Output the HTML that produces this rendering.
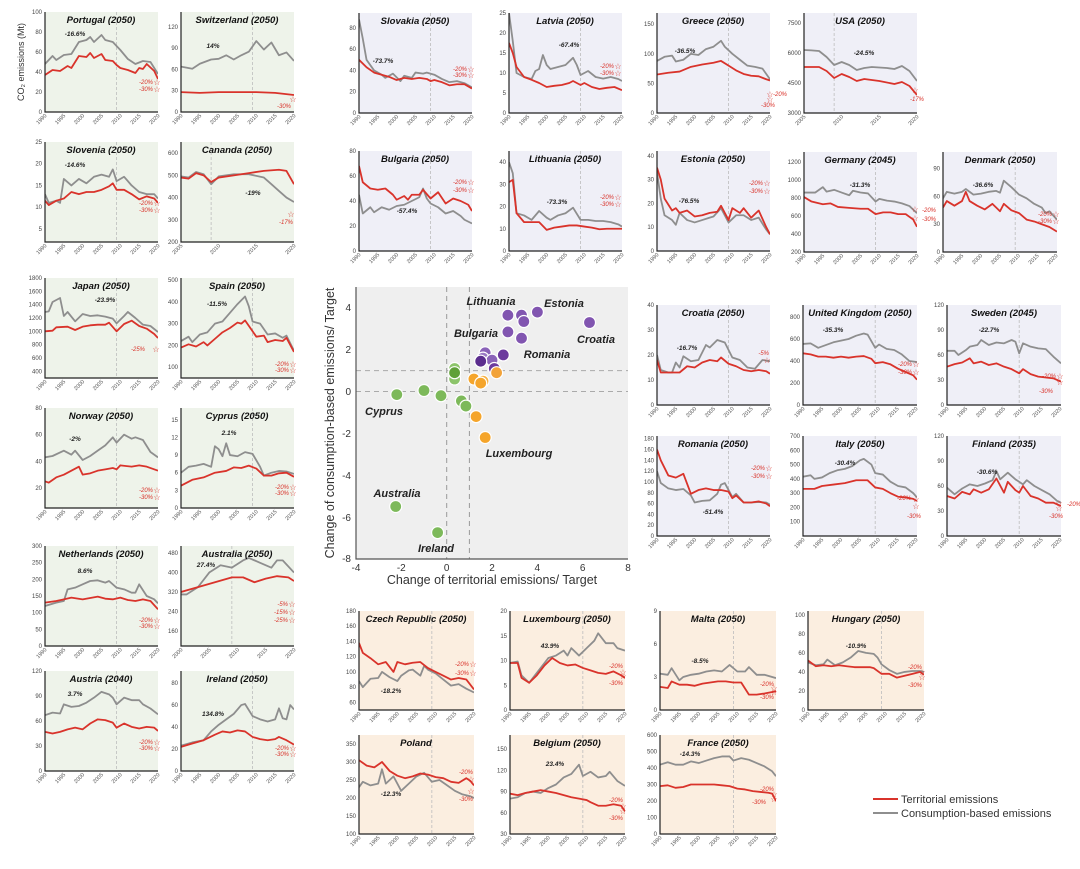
<!DOCTYPE html>
<html><head><meta charset="utf-8">
<style>
html,body{margin:0;padding:0;background:#fff;width:1080px;height:869px;overflow:hidden}
svg{font-family:"Liberation Sans",Arial,sans-serif}
.tt{font-weight:bold;font-style:italic;font-size:9.5px;text-anchor:middle;fill:#111}
.yt{font-size:6px;fill:#444;text-anchor:end}
.xt{font-size:5.5px;fill:#555;text-anchor:end}
.an{font-weight:bold;font-style:italic;font-size:6.5px;text-anchor:middle;fill:#222}
.ra{font-style:italic;font-size:6px;fill:#d9332b;text-anchor:end}
.st{font-size:8px;fill:#d9332b;text-anchor:middle}
.g{fill:none;stroke:#8e8e8e;stroke-width:1.8;vector-effect:non-scaling-stroke;stroke-linejoin:round}
.r{fill:none;stroke:#d9332b;stroke-width:1.8;vector-effect:non-scaling-stroke;stroke-linejoin:round}
.dl{stroke:#bdbdbd;stroke-width:.8;stroke-dasharray:3 2;vector-effect:non-scaling-stroke}
.ax{fill:none;stroke:#222;stroke-width:1.2}
.gb{fill:#eef3ea}.pb{fill:#efeff7}.ob{fill:#fbeee0}
.sl{font-weight:bold;font-style:italic;font-size:11px;text-anchor:middle;fill:#222}
.sk{font-size:10px;fill:#333}
</style></head><body>
<svg width="1080" height="869" viewBox="0 0 1080 869" xmlns="http://www.w3.org/2000/svg">

<text transform="translate(24,62) rotate(-90)" style="font-size:9px;fill:#333" text-anchor="middle">CO₂ emissions (Mt)</text>

<!-- Portugal -->
<g transform="translate(45,12)">
<rect class="gb" width="113" height="100"/>
<svg width="113" height="100" viewBox="1990 -100 30 100" preserveAspectRatio="none"><line class="dl" x1="2009" x2="2009" y1="-100" y2="0"/>
<polyline class="g" points="1990,-48 1992,-56 1993,-52 1995,-57 1997,-58 1999,-70 2001,-72 2002,-75 2003,-70 2005,-77 2006,-72 2008,-70 2010,-62 2012,-53 2014,-48 2016,-51 2018,-50 2020,-38"/>
<polyline class="r" points="1990,-37 1992,-42 1994,-41 1996,-46 1997,-44 1999,-56 2001,-55 2002,-59 2003,-54 2005,-58 2006,-52 2008,-51 2009,-47 2010,-44 2012,-42 2014,-39 2015,-44 2016,-43 2017,-48 2019,-41 2020,-33"/></svg>
<path class="ax" d="M0,0V100H113"/>
<text class="yt" x="-3" y="102">0</text><text class="yt" x="-3" y="82">20</text><text class="yt" x="-3" y="62">40</text><text class="yt" x="-3" y="42">60</text><text class="yt" x="-3" y="22">80</text><text class="yt" x="-3" y="2">100</text>
<text class="xt" transform="translate(2,104) rotate(-45)">1990</text><text class="xt" transform="translate(20.8,104) rotate(-45)">1995</text><text class="xt" transform="translate(39.7,104) rotate(-45)">2000</text><text class="xt" transform="translate(58.5,104) rotate(-45)">2005</text><text class="xt" transform="translate(77.3,104) rotate(-45)">2010</text><text class="xt" transform="translate(96.2,104) rotate(-45)">2015</text><text class="xt" transform="translate(115,104) rotate(-45)">2020</text>
<text class="tt" x="56" y="11">Portugal (2050)</text>
<text class="an" x="30" y="24">-16.6%</text><text class="ra" x="108" y="72">-20%</text><text class="ra" x="108" y="79">-30%</text><text class="st" x="112" y="73">☆</text><text class="st" x="112" y="80">☆</text>
</g>

<!-- Switzerland -->
<g transform="translate(181,12)">
<rect class="gb" width="113" height="100"/>
<svg width="113" height="100" viewBox="1990 -141 30 141" preserveAspectRatio="none"><line class="dl" x1="2009" x2="2009" y1="-141" y2="0"/>
<polyline class="g" points="1990,64 1993,61 1995,68 1998,74 2000,75 2002,80 2004,74 2006,80 2008,85 2010,100 2012,88 2014,98 2016,80 2018,84 2020,72" transform="scale(1,-1)"/>
<polyline class="r" points="1990,-28 1995,-27 2000,-28 2005,-28 2010,-28 2015,-27 2020,-24"/></svg>
<path class="ax" d="M0,0V100H113"/>
<text class="yt" x="-3" y="102">0</text><text class="yt" x="-3" y="80.7">30</text><text class="yt" x="-3" y="59.4">60</text><text class="yt" x="-3" y="38.2">90</text><text class="yt" x="-3" y="16.9">120</text>
<text class="xt" transform="translate(2,104) rotate(-45)">1990</text><text class="xt" transform="translate(20.8,104) rotate(-45)">1995</text><text class="xt" transform="translate(39.7,104) rotate(-45)">2000</text><text class="xt" transform="translate(58.5,104) rotate(-45)">2005</text><text class="xt" transform="translate(77.3,104) rotate(-45)">2010</text><text class="xt" transform="translate(96.2,104) rotate(-45)">2015</text><text class="xt" transform="translate(115,104) rotate(-45)">2020</text>
<text class="tt" x="56" y="11">Switzerland (2050)</text>
<text class="an" x="32" y="36">14%</text><text class="ra" x="110" y="96">-30%</text><text class="st" x="112" y="90">☆</text>
</g>

<!-- Slovenia -->
<g transform="translate(45,142)">
<rect class="gb" width="113" height="100"/>
<svg width="113" height="100" viewBox="1990 -25 30 23" preserveAspectRatio="none"><line class="dl" x1="2009" x2="2009" y1="-25" y2="-2"/>
<polyline class="g" points="1990,-13 1991,-11 1993,-11.5 1994,-11 1995,-16.5 1997,-15 1999,-16.5 2001,-15.5 2003,-17 2005,-17.5 2007,-17 2008,-18.7 2009,-16 2011,-17 2013,-15 2015,-13.5 2017,-13 2019,-13 2020,-12"/>
<polyline class="r" points="1990,-11.5 1991,-10.5 1993,-11.5 1995,-12 1997,-13.5 1999,-13 2001,-13.5 2003,-13.5 2005,-14 2007,-14.8 2008,-15.5 2009,-14 2011,-14 2013,-13 2015,-11.8 2017,-12.5 2019,-12 2020,-11"/></svg>
<path class="ax" d="M0,0V100H113"/>
<text class="yt" x="-3" y="89">5</text><text class="yt" x="-3" y="67.2">10</text><text class="yt" x="-3" y="45.5">15</text><text class="yt" x="-3" y="23.7">20</text><text class="yt" x="-3" y="2">25</text>
<text class="xt" transform="translate(2,104) rotate(-45)">1990</text><text class="xt" transform="translate(20.8,104) rotate(-45)">1995</text><text class="xt" transform="translate(39.7,104) rotate(-45)">2000</text><text class="xt" transform="translate(58.5,104) rotate(-45)">2005</text><text class="xt" transform="translate(77.3,104) rotate(-45)">2010</text><text class="xt" transform="translate(96.2,104) rotate(-45)">2015</text><text class="xt" transform="translate(115,104) rotate(-45)">2020</text>
<text class="tt" x="56" y="11">Slovenia (2050)</text>
<text class="an" x="30" y="25">-14.6%</text><text class="ra" x="108" y="63">-20%</text><text class="ra" x="108" y="70">-30%</text><text class="st" x="112" y="64">☆</text><text class="st" x="112" y="71">☆</text>
</g>

<!-- Canada -->
<g transform="translate(181,142)">
<rect class="gb" width="113" height="100"/>
<svg width="113" height="100" viewBox="2005 -650 15 450" preserveAspectRatio="none"><line class="dl" x1="2009" x2="2009" y1="-650" y2="-200"/>
<polyline class="g" points="2005,-495 2006,-490 2007,-515 2008,-505 2009,-460 2010,-495 2012,-505 2014,-505 2016,-490 2017,-460 2018,-430 2019,-400 2020,-380"/>
<polyline class="r" points="2005,-490 2006,-485 2007,-510 2008,-500 2009,-470 2010,-490 2012,-500 2014,-510 2016,-520 2018,-525 2019,-520 2020,-460"/></svg>
<path class="ax" d="M0,0V100H113"/>
<text class="yt" x="-3" y="102">200</text><text class="yt" x="-3" y="79.8">300</text><text class="yt" x="-3" y="57.6">400</text><text class="yt" x="-3" y="35.3">500</text><text class="yt" x="-3" y="13.1">600</text>
<text class="xt" transform="translate(2,104) rotate(-45)">2005</text><text class="xt" transform="translate(39.7,104) rotate(-45)">2010</text><text class="xt" transform="translate(77.3,104) rotate(-45)">2015</text><text class="xt" transform="translate(115,104) rotate(-45)">2020</text>
<text class="tt" x="56" y="11">Cananda (2050)</text>
<text class="an" x="72" y="53">-19%</text><text class="st" x="110" y="75">☆</text><text class="ra" x="112" y="82">-17%</text>
</g>

<!-- Japan -->
<g transform="translate(45,278)">
<rect class="gb" width="113" height="100"/>
<svg width="113" height="100" viewBox="1990 -1800 30 1500" preserveAspectRatio="none"><line class="dl" x1="2009" x2="2009" y1="-1800" y2="-300"/>
<polyline class="g" points="1990,-1290 1991,-1300 1992,-1440 1994,-1500 1995,-1230 1996,-1290 1998,-1150 2000,-1260 2002,-1230 2004,-1240 2006,-1220 2008,-1190 2009,-1120 2011,-1230 2012,-1290 2014,-1200 2016,-1100 2018,-1080 2020,-990"/>
<polyline class="r" points="1990,-1000 1992,-1010 1993,-1060 1996,-1070 1998,-1020 2000,-1070 2002,-1090 2004,-1100 2006,-1100 2007,-1130 2009,-1000 2011,-1110 2013,-1160 2015,-1080 2017,-1040 2019,-960 2020,-900"/></svg>
<path class="ax" d="M0,0V100H113"/>
<text class="yt" x="-3" y="95.3">400</text><text class="yt" x="-3" y="82">600</text><text class="yt" x="-3" y="68.7">800</text><text class="yt" x="-3" y="55.3">1000</text><text class="yt" x="-3" y="42">1200</text><text class="yt" x="-3" y="28.7">1400</text><text class="yt" x="-3" y="15.3">1600</text><text class="yt" x="-3" y="2">1800</text>
<text class="xt" transform="translate(2,104) rotate(-45)">1990</text><text class="xt" transform="translate(20.8,104) rotate(-45)">1995</text><text class="xt" transform="translate(39.7,104) rotate(-45)">2000</text><text class="xt" transform="translate(58.5,104) rotate(-45)">2005</text><text class="xt" transform="translate(77.3,104) rotate(-45)">2010</text><text class="xt" transform="translate(96.2,104) rotate(-45)">2015</text><text class="xt" transform="translate(115,104) rotate(-45)">2020</text>
<text class="tt" x="56" y="11">Japan (2050)</text>
<text class="an" x="60" y="24">-23.9%</text><text class="ra" x="100" y="73">-25%</text><text class="st" x="111" y="74">☆</text>
</g>

<!-- Spain -->
<g transform="translate(181,278)">
<rect class="gb" width="113" height="100"/>
<svg width="113" height="100" viewBox="1990 -510 30 460" preserveAspectRatio="none"><line class="dl" x1="2009" x2="2009" y1="-510" y2="-50"/>
<polyline class="g" points="1990,-220 1992,-240 1993,-215 1995,-250 1997,-260 1999,-300 2001,-310 2003,-350 2005,-390 2007,-425 2008,-380 2009,-310 2011,-300 2013,-250 2015,-255 2017,-235 2018,-245 2020,-175"/>
<polyline class="r" points="1990,-190 1992,-205 1994,-195 1996,-215 1997,-200 1999,-230 2001,-260 2003,-280 2005,-305 2006,-300 2007,-315 2009,-265 2010,-240 2012,-245 2013,-215 2015,-225 2017,-220 2018,-235 2020,-170"/></svg>
<path class="ax" d="M0,0V100H113"/>
<text class="yt" x="-3" y="91.1">100</text><text class="yt" x="-3" y="69.4">200</text><text class="yt" x="-3" y="47.7">300</text><text class="yt" x="-3" y="25.9">400</text><text class="yt" x="-3" y="4.2">500</text>
<text class="xt" transform="translate(2,104) rotate(-45)">1990</text><text class="xt" transform="translate(20.8,104) rotate(-45)">1995</text><text class="xt" transform="translate(39.7,104) rotate(-45)">2000</text><text class="xt" transform="translate(58.5,104) rotate(-45)">2005</text><text class="xt" transform="translate(77.3,104) rotate(-45)">2010</text><text class="xt" transform="translate(96.2,104) rotate(-45)">2015</text><text class="xt" transform="translate(115,104) rotate(-45)">2020</text>
<text class="tt" x="56" y="11">Spain (2050)</text>
<text class="an" x="36" y="28">-11.5%</text><text class="ra" x="108" y="88">-20%</text><text class="ra" x="108" y="94">-30%</text><text class="st" x="112" y="89">☆</text><text class="st" x="112" y="95">☆</text>
</g>

<!-- Norway -->
<g transform="translate(45,408)">
<rect class="gb" width="113" height="100"/>
<svg width="113" height="100" viewBox="1990 -80 30 75" preserveAspectRatio="none"><line class="dl" x1="2009" x2="2009" y1="-80" y2="-5"/>
<polyline class="g" points="1990,-43 1992,-44 1995,-48 1997,-45 1998,-48 2000,-41 2002,-44 2004,-48 2006,-52 2008,-58 2009,-54 2011,-60 2013,-57 2014,-58 2016,-56 2018,-47 2020,-43"/>
<polyline class="r" points="1990,-25 1991,-24 1993,-28 1995,-30 1997,-33 1999,-36 2000,-30 2002,-31 2004,-33 2006,-34 2008,-35 2009,-34 2010,-37 2013,-36 2015,-37 2017,-36 2020,-33"/></svg>
<path class="ax" d="M0,0V100H113"/>
<text class="yt" x="-3" y="82">20</text><text class="yt" x="-3" y="55.3">40</text><text class="yt" x="-3" y="28.7">60</text><text class="yt" x="-3" y="2">80</text>
<text class="xt" transform="translate(2,104) rotate(-45)">1990</text><text class="xt" transform="translate(20.8,104) rotate(-45)">1995</text><text class="xt" transform="translate(39.7,104) rotate(-45)">2000</text><text class="xt" transform="translate(58.5,104) rotate(-45)">2005</text><text class="xt" transform="translate(77.3,104) rotate(-45)">2010</text><text class="xt" transform="translate(96.2,104) rotate(-45)">2015</text><text class="xt" transform="translate(115,104) rotate(-45)">2020</text>
<text class="tt" x="56" y="11">Norway (2050)</text>
<text class="an" x="30" y="33">-2%</text><text class="ra" x="108" y="84">-20%</text><text class="ra" x="108" y="91">-30%</text><text class="st" x="112" y="85">☆</text><text class="st" x="112" y="92">☆</text>
</g>

<!-- Cyprus -->
<g transform="translate(181,408)">
<rect class="gb" width="113" height="100"/>
<svg width="113" height="100" viewBox="1990 -17 30 17" preserveAspectRatio="none"><line class="dl" x1="2009" x2="2009" y1="-17" y2="0"/>
<polyline class="g" points="1990,-6 1992,-7 1994,-7.2 1996,-7.5 1998,-7 1999,-10.5 2000,-10 2001,-8.8 2002,-11 2003,-9 2005,-8.8 2007,-9.5 2009,-9.2 2011,-7 2012,-5.5 2014,-6 2016,-6.3 2018,-6.2 2020,-5.8"/>
<polyline class="r" points="1990,-3.8 1993,-4.8 1996,-5.2 1999,-6 2002,-6.3 2004,-6.9 2006,-6.8 2008,-7.2 2010,-6.7 2012,-5.5 2014,-5.5 2016,-5.9 2018,-6 2020,-5.3"/></svg>
<path class="ax" d="M0,0V100H113"/>
<text class="yt" x="-3" y="102">0</text><text class="yt" x="-3" y="84.4">3</text><text class="yt" x="-3" y="66.7">6</text><text class="yt" x="-3" y="49.1">9</text><text class="yt" x="-3" y="31.4">12</text><text class="yt" x="-3" y="13.8">15</text>
<text class="xt" transform="translate(2,104) rotate(-45)">1990</text><text class="xt" transform="translate(20.8,104) rotate(-45)">1995</text><text class="xt" transform="translate(39.7,104) rotate(-45)">2000</text><text class="xt" transform="translate(58.5,104) rotate(-45)">2005</text><text class="xt" transform="translate(77.3,104) rotate(-45)">2010</text><text class="xt" transform="translate(96.2,104) rotate(-45)">2015</text><text class="xt" transform="translate(115,104) rotate(-45)">2020</text>
<text class="tt" x="56" y="11">Cyprus (2050)</text>
<text class="an" x="48" y="27">2.1%</text><text class="ra" x="108" y="81">-20%</text><text class="ra" x="108" y="87">-30%</text><text class="st" x="112" y="82">☆</text><text class="st" x="112" y="88">☆</text>
</g>

<!-- Netherlands -->
<g transform="translate(45,546)">
<rect class="gb" width="113" height="100"/>
<svg width="113" height="100" viewBox="1990 -300 30 300" preserveAspectRatio="none"><line class="dl" x1="2009" x2="2009" y1="-300" y2="0"/>
<polyline class="g" points="1990,-120 1993,-130 1995,-135 1996,-170 1998,-175 2000,-185 2002,-195 2004,-197 2006,-190 2007,-195 2009,-175 2011,-170 2013,-160 2014,-160 2015,-185 2017,-150 2019,-140 2020,-128"/>
<polyline class="r" points="1990,-130 1993,-135 1995,-140 1997,-145 2000,-140 2004,-148 2006,-142 2008,-140 2010,-145 2012,-138 2014,-135 2016,-140 2018,-135 2020,-110"/></svg>
<path class="ax" d="M0,0V100H113"/>
<text class="yt" x="-3" y="102">0</text><text class="yt" x="-3" y="85.3">50</text><text class="yt" x="-3" y="68.7">100</text><text class="yt" x="-3" y="52">150</text><text class="yt" x="-3" y="35.3">200</text><text class="yt" x="-3" y="18.7">250</text><text class="yt" x="-3" y="2">300</text>
<text class="xt" transform="translate(2,104) rotate(-45)">1990</text><text class="xt" transform="translate(20.8,104) rotate(-45)">1995</text><text class="xt" transform="translate(39.7,104) rotate(-45)">2000</text><text class="xt" transform="translate(58.5,104) rotate(-45)">2005</text><text class="xt" transform="translate(77.3,104) rotate(-45)">2010</text><text class="xt" transform="translate(96.2,104) rotate(-45)">2015</text><text class="xt" transform="translate(115,104) rotate(-45)">2020</text>
<text class="tt" x="56" y="11">Netherlands (2050)</text>
<text class="an" x="40" y="27">8.6%</text><text class="ra" x="108" y="76">-20%</text><text class="ra" x="108" y="82">-30%</text><text class="st" x="112" y="77">☆</text><text class="st" x="112" y="83">☆</text>
</g>

<!-- Australia -->
<g transform="translate(181,546)">
<rect class="gb" width="113" height="100"/>
<svg width="113" height="100" viewBox="2000 -509 20 411" preserveAspectRatio="none"><line class="dl" x1="2009" x2="2009" y1="-509" y2="-98"/>
<polyline class="g" points="2000,-310 2001,-310 2003,-340 2005,-400 2007,-430 2009,-420 2011,-450 2012,-460 2014,-440 2016,-420 2017,-450 2018,-450 2020,-400"/>
<polyline class="r" points="2000,-320 2003,-340 2006,-360 2009,-380 2011,-380 2013,-360 2015,-375 2017,-385 2019,-380 2020,-365"/></svg>
<path class="ax" d="M0,0V100H113"/>
<text class="yt" x="-3" y="86.9">160</text><text class="yt" x="-3" y="67.5">240</text><text class="yt" x="-3" y="48">320</text><text class="yt" x="-3" y="28.5">400</text><text class="yt" x="-3" y="9.1">480</text>
<text class="xt" transform="translate(2,104) rotate(-45)">2000</text><text class="xt" transform="translate(30.3,104) rotate(-45)">2005</text><text class="xt" transform="translate(58.5,104) rotate(-45)">2010</text><text class="xt" transform="translate(86.8,104) rotate(-45)">2015</text><text class="xt" transform="translate(115,104) rotate(-45)">2020</text>
<text class="tt" x="56" y="11">Australia (2050)</text>
<text class="an" x="25" y="21">27.4%</text><text class="ra" x="107" y="60">-5%</text><text class="ra" x="107" y="68">-15%</text><text class="ra" x="107" y="76">-25%</text><text class="st" x="111" y="61">☆</text><text class="st" x="111" y="69">☆</text><text class="st" x="111" y="77">☆</text>
</g>

<!-- Austria -->
<g transform="translate(45,671)">
<rect class="gb" width="113" height="100"/>
<svg width="113" height="100" viewBox="1990 -120 30 120" preserveAspectRatio="none"><line class="dl" x1="2009" x2="2009" y1="-120" y2="0"/>
<polyline class="g" points="1990,-67 1992,-70 1994,-69 1995,-80 1997,-77 1999,-78 2001,-82 2003,-88 2005,-95 2007,-92 2008,-88 2009,-80 2011,-88 2013,-85 2015,-85 2016,-80 2018,-75 2020,-68"/>
<polyline class="r" points="1990,-47 1992,-45 1994,-47 1996,-50 1998,-52 2000,-50 2002,-57 2004,-62 2006,-61 2008,-58 2009,-52 2011,-57 2013,-53 2015,-51 2017,-53 2019,-52 2020,-48"/></svg>
<path class="ax" d="M0,0V100H113"/>
<text class="yt" x="-3" y="102">0</text><text class="yt" x="-3" y="77">30</text><text class="yt" x="-3" y="52">60</text><text class="yt" x="-3" y="27">90</text><text class="yt" x="-3" y="2">120</text>
<text class="xt" transform="translate(2,104) rotate(-45)">1990</text><text class="xt" transform="translate(20.8,104) rotate(-45)">1995</text><text class="xt" transform="translate(39.7,104) rotate(-45)">2000</text><text class="xt" transform="translate(58.5,104) rotate(-45)">2005</text><text class="xt" transform="translate(77.3,104) rotate(-45)">2010</text><text class="xt" transform="translate(96.2,104) rotate(-45)">2015</text><text class="xt" transform="translate(115,104) rotate(-45)">2020</text>
<text class="tt" x="56" y="11">Austria (2040)</text>
<text class="an" x="30" y="25">3.7%</text><text class="ra" x="108" y="73">-20%</text><text class="ra" x="108" y="79">-30%</text><text class="st" x="112" y="74">☆</text><text class="st" x="112" y="80">☆</text>
</g>

<!-- Ireland -->
<g transform="translate(181,671)">
<rect class="gb" width="113" height="100"/>
<svg width="113" height="100" viewBox="1990 -91 30 91" preserveAspectRatio="none"><line class="dl" x1="2009" x2="2009" y1="-91" y2="0"/>
<polyline class="g" points="1990,-23 1993,-26 1996,-28 1998,-36 2000,-42 2002,-47 2004,-52 2006,-60 2007,-61 2009,-50 2011,-47 2013,-45 2015,-47 2016,-57 2017,-48 2018,-47 2019,-60 2020,-56"/>
<polyline class="r" points="1990,-22 1993,-25 1996,-28 1999,-33 2001,-36 2003,-35 2005,-37 2007,-36 2009,-31 2011,-29 2013,-28 2015,-29 2016,-31 2018,-28 2020,-24"/></svg>
<path class="ax" d="M0,0V100H113"/>
<text class="yt" x="-3" y="102">0</text><text class="yt" x="-3" y="80">20</text><text class="yt" x="-3" y="58">40</text><text class="yt" x="-3" y="36">60</text><text class="yt" x="-3" y="14.1">80</text>
<text class="xt" transform="translate(2,104) rotate(-45)">1990</text><text class="xt" transform="translate(20.8,104) rotate(-45)">1995</text><text class="xt" transform="translate(39.7,104) rotate(-45)">2000</text><text class="xt" transform="translate(58.5,104) rotate(-45)">2005</text><text class="xt" transform="translate(77.3,104) rotate(-45)">2010</text><text class="xt" transform="translate(96.2,104) rotate(-45)">2015</text><text class="xt" transform="translate(115,104) rotate(-45)">2020</text>
<text class="tt" x="56" y="11">Ireland (2050)</text>
<text class="an" x="32" y="45">134.8%</text><text class="ra" x="108" y="79">-20%</text><text class="ra" x="108" y="85">-30%</text><text class="st" x="112" y="80">☆</text><text class="st" x="112" y="86">☆</text>
</g>

<!-- Slovakia -->
<g transform="translate(359,13)">
<rect class="pb" width="113" height="100"/>
<svg width="113" height="100" viewBox="1990 -94 30 94" preserveAspectRatio="none"><line class="dl" x1="2009" x2="2009" y1="-94" y2="0"/>
<polyline class="g" points="1990,-88 1991,-70 1992,-50 1994,-40 1996,-36 1997,-33 1999,-37 2001,-30 2002,-35 2004,-33 2005,-38 2007,-37 2008,-38 2010,-36 2012,-32 2014,-29 2016,-30 2018,-28 2020,-24"/>
<polyline class="r" points="1990,-50 1992,-43 1994,-38 1996,-36 1998,-34 2000,-31 2002,-33 2004,-32 2006,-33 2008,-32 2009,-30 2010,-31 2012,-29 2014,-26 2016,-27 2018,-27 2020,-23"/></svg>
<path class="ax" d="M0,0V100H113"/>
<text class="yt" x="-3" y="102">0</text><text class="yt" x="-3" y="80.7">20</text><text class="yt" x="-3" y="59.4">40</text><text class="yt" x="-3" y="38.2">60</text><text class="yt" x="-3" y="16.9">80</text>
<text class="xt" transform="translate(2,104) rotate(-45)">1990</text><text class="xt" transform="translate(20.8,104) rotate(-45)">1995</text><text class="xt" transform="translate(39.7,104) rotate(-45)">2000</text><text class="xt" transform="translate(58.5,104) rotate(-45)">2005</text><text class="xt" transform="translate(77.3,104) rotate(-45)">2010</text><text class="xt" transform="translate(96.2,104) rotate(-45)">2015</text><text class="xt" transform="translate(115,104) rotate(-45)">2020</text>
<text class="tt" x="56" y="11">Slovakia (2050)</text>
<text class="an" x="24" y="50">-73.7%</text><text class="ra" x="108" y="58">-20%</text><text class="ra" x="108" y="64">-30%</text><text class="st" x="112" y="59">☆</text><text class="st" x="112" y="65">☆</text>
</g>

<!-- Latvia -->
<g transform="translate(509,13)">
<rect class="pb" width="113" height="100"/>
<svg width="113" height="100" viewBox="1990 -25 30 25" preserveAspectRatio="none"><line class="dl" x1="2009" x2="2009" y1="-25" y2="0"/>
<polyline class="g" points="1990,-25 1991,-18 1992,-10 1994,-9 1996,-8.5 1997,-10.5 1998,-11 1999,-14.5 2000,-12 2001,-11 2003,-11.5 2005,-12 2007,-13.8 2008,-12 2009,-9.5 2011,-10.5 2013,-9 2015,-8.6 2017,-9 2019,-8.5 2020,-8"/>
<polyline class="r" points="1990,-17.5 1991,-15 1992,-11.5 1994,-9 1996,-8.3 1998,-7.5 2000,-6.5 2002,-6.8 2004,-7 2006,-7.5 2007,-8 2009,-7 2010,-7.5 2012,-6.5 2014,-6 2016,-6.3 2018,-6.5 2020,-5.7"/></svg>
<path class="ax" d="M0,0V100H113"/>
<text class="yt" x="-3" y="102">0</text><text class="yt" x="-3" y="82">5</text><text class="yt" x="-3" y="62">10</text><text class="yt" x="-3" y="42">15</text><text class="yt" x="-3" y="22">20</text><text class="yt" x="-3" y="2">25</text>
<text class="xt" transform="translate(2,104) rotate(-45)">1990</text><text class="xt" transform="translate(20.8,104) rotate(-45)">1995</text><text class="xt" transform="translate(39.7,104) rotate(-45)">2000</text><text class="xt" transform="translate(58.5,104) rotate(-45)">2005</text><text class="xt" transform="translate(77.3,104) rotate(-45)">2010</text><text class="xt" transform="translate(96.2,104) rotate(-45)">2015</text><text class="xt" transform="translate(115,104) rotate(-45)">2020</text>
<text class="tt" x="56" y="11">Latvia (2050)</text>
<text class="an" x="60" y="34">-67.4%</text><text class="ra" x="105" y="55">-20%</text><text class="ra" x="105" y="62">-30%</text><text class="st" x="109" y="56">☆</text><text class="st" x="109" y="63">☆</text>
</g>

<!-- Greece -->
<g transform="translate(657,13)">
<rect class="pb" width="113" height="100"/>
<svg width="113" height="100" viewBox="1990 -169 30 169" preserveAspectRatio="none"><line class="dl" x1="2009" x2="2009" y1="-169" y2="0"/>
<polyline class="g" points="1990,-88 1992,-95 1994,-97 1995,-87 1997,-90 1999,-100 2001,-98 2003,-108 2005,-112 2007,-122 2008,-112 2010,-100 2012,-90 2014,-80 2016,-78 2018,-75 2020,-57"/>
<polyline class="r" points="1990,-65 1993,-68 1996,-70 1999,-78 2002,-82 2005,-85 2007,-88 2009,-80 2011,-72 2013,-66 2015,-63 2017,-62 2019,-57 2020,-55"/></svg>
<path class="ax" d="M0,0V100H113"/>
<text class="yt" x="-3" y="102">0</text><text class="yt" x="-3" y="72.4">50</text><text class="yt" x="-3" y="42.8">100</text><text class="yt" x="-3" y="13.2">150</text>
<text class="xt" transform="translate(2,104) rotate(-45)">1990</text><text class="xt" transform="translate(20.8,104) rotate(-45)">1995</text><text class="xt" transform="translate(39.7,104) rotate(-45)">2000</text><text class="xt" transform="translate(58.5,104) rotate(-45)">2005</text><text class="xt" transform="translate(77.3,104) rotate(-45)">2010</text><text class="xt" transform="translate(96.2,104) rotate(-45)">2015</text><text class="xt" transform="translate(115,104) rotate(-45)">2020</text>
<text class="tt" x="56" y="11">Greece (2050)</text>
<text class="an" x="28" y="40">-36.5%</text><text class="st" x="113" y="84">☆</text><text class="st" x="113" y="89">☆</text><text class="ra" x="130" y="83">-20%</text><text class="ra" x="118" y="94">-30%</text>
</g>

<!-- USA -->
<g transform="translate(804,13)">
<rect class="pb" width="113" height="100"/>
<svg width="113" height="100" viewBox="2005 -8000 15 5000" preserveAspectRatio="none"><line class="dl" x1="2009" x2="2009" y1="-8000" y2="-3000"/>
<polyline class="g" points="2005,-6150 2006,-6130 2007,-6100 2008,-5800 2009,-5400 2010,-5550 2011,-5400 2012,-5150 2013,-5250 2014,-5300 2016,-5250 2017,-5200 2018,-5350 2019,-5100 2020,-4600"/>
<polyline class="r" points="2005,-5300 2007,-5300 2008,-5100 2009,-4750 2010,-4950 2011,-4800 2012,-4600 2013,-4700 2015,-4600 2017,-4450 2018,-4550 2019,-4350 2020,-3900"/></svg>
<path class="ax" d="M0,0V100H113"/>
<text class="yt" x="-3" y="102">3000</text><text class="yt" x="-3" y="72">4500</text><text class="yt" x="-3" y="42">6000</text><text class="yt" x="-3" y="12">7500</text>
<text class="xt" transform="translate(2,104) rotate(-45)">2005</text><text class="xt" transform="translate(39.7,104) rotate(-45)">2010</text><text class="xt" transform="translate(77.3,104) rotate(-45)">2015</text><text class="xt" transform="translate(115,104) rotate(-45)">2020</text>
<text class="tt" x="56" y="11">USA (2050)</text>
<text class="an" x="60" y="42">-24.5%</text><text class="st" x="111" y="80">☆</text><text class="ra" x="120" y="88">-17%</text>
</g>

<!-- Bulgaria -->
<g transform="translate(359,151)">
<rect class="pb" width="113" height="100"/>
<svg width="113" height="100" viewBox="1990 -80 30 80" preserveAspectRatio="none"><line class="dl" x1="2009" x2="2009" y1="-80" y2="0"/>
<polyline class="g" points="1990,-45 1991,-30 1993,-35 1994,-31 1996,-35 1998,-33 2000,-36 2002,-37 2004,-40 2006,-43 2007,-50 2008,-42 2009,-38 2011,-35 2013,-30 2015,-32 2017,-28 2018,-25 2020,-22"/>
<polyline class="r" points="1990,-68 1991,-55 1993,-50 1995,-49 1997,-50 1999,-45 2000,-41 2002,-44 2003,-41 2004,-45 2006,-45 2007,-49 2009,-42 2011,-47 2013,-38 2015,-42 2017,-40 2019,-37 2020,-32"/></svg>
<path class="ax" d="M0,0V100H113"/>
<text class="yt" x="-3" y="102">0</text><text class="yt" x="-3" y="77">20</text><text class="yt" x="-3" y="52">40</text><text class="yt" x="-3" y="27">60</text><text class="yt" x="-3" y="2">80</text>
<text class="xt" transform="translate(2,104) rotate(-45)">1990</text><text class="xt" transform="translate(20.8,104) rotate(-45)">1995</text><text class="xt" transform="translate(39.7,104) rotate(-45)">2000</text><text class="xt" transform="translate(58.5,104) rotate(-45)">2005</text><text class="xt" transform="translate(77.3,104) rotate(-45)">2010</text><text class="xt" transform="translate(96.2,104) rotate(-45)">2015</text><text class="xt" transform="translate(115,104) rotate(-45)">2020</text>
<text class="tt" x="56" y="11">Bulgaria (2050)</text>
<text class="an" x="48" y="62">-57.4%</text><text class="ra" x="108" y="33">-20%</text><text class="ra" x="108" y="41">-30%</text><text class="st" x="112" y="34">☆</text><text class="st" x="112" y="42">☆</text>
</g>

<!-- Lithuania -->
<g transform="translate(509,151)">
<rect class="pb" width="113" height="100"/>
<svg width="113" height="100" viewBox="1990 -45 30 45" preserveAspectRatio="none"><line class="dl" x1="2009" x2="2009" y1="-45" y2="0"/>
<polyline class="g" points="1990,-40 1991,-35 1992,-17 1994,-16 1996,-14 1998,-18 2000,-15 2001,-14 2003,-16 2005,-17 2007,-19.5 2009,-14 2011,-14 2013,-13.5 2015,-13.5 2017,-13 2019,-12 2020,-11"/>
<polyline class="r" points="1990,-31 1991,-32 1992,-17 1994,-13 1996,-13 1998,-13 2000,-9.5 2002,-10.5 2004,-11 2006,-11.5 2008,-11.5 2010,-11 2012,-10.5 2014,-9.8 2016,-10 2018,-10 2020,-10"/></svg>
<path class="ax" d="M0,0V100H113"/>
<text class="yt" x="-3" y="102">0</text><text class="yt" x="-3" y="79.8">10</text><text class="yt" x="-3" y="57.6">20</text><text class="yt" x="-3" y="35.3">30</text><text class="yt" x="-3" y="13.1">40</text>
<text class="xt" transform="translate(2,104) rotate(-45)">1990</text><text class="xt" transform="translate(20.8,104) rotate(-45)">1995</text><text class="xt" transform="translate(39.7,104) rotate(-45)">2000</text><text class="xt" transform="translate(58.5,104) rotate(-45)">2005</text><text class="xt" transform="translate(77.3,104) rotate(-45)">2010</text><text class="xt" transform="translate(96.2,104) rotate(-45)">2015</text><text class="xt" transform="translate(115,104) rotate(-45)">2020</text>
<text class="tt" x="56" y="11">Lithuania (2050)</text>
<text class="an" x="48" y="53">-73.3%</text><text class="ra" x="105" y="48">-20%</text><text class="ra" x="105" y="55">-30%</text><text class="st" x="109" y="49">☆</text><text class="st" x="109" y="56">☆</text>
</g>

<!-- Estonia -->
<g transform="translate(657,151)">
<rect class="pb" width="113" height="100"/>
<svg width="113" height="100" viewBox="1990 -42 30 42" preserveAspectRatio="none"><line class="dl" x1="2009" x2="2009" y1="-42" y2="0"/>
<polyline class="g" points="1990,-33 1991,-22 1992,-15 1994,-13 1995,-11 1996,-16 1998,-13 2000,-12 2002,-13 2004,-14 2005,-14.5 2007,-18 2008,-15 2009,-12 2011,-15 2013,-15 2015,-13 2017,-14 2019,-9 2020,-7"/>
<polyline class="r" points="1990,-35 1991,-30 1992,-22 1994,-17 1995,-18 1996,-16 1998,-17 2000,-14.5 2002,-15 2004,-16 2006,-16.5 2007,-19 2008,-16 2009,-13 2010,-18 2012,-16 2013,-18 2015,-14 2017,-17 2019,-10 2020,-7"/></svg>
<path class="ax" d="M0,0V100H113"/>
<text class="yt" x="-3" y="102">0</text><text class="yt" x="-3" y="78.2">10</text><text class="yt" x="-3" y="54.4">20</text><text class="yt" x="-3" y="30.6">30</text><text class="yt" x="-3" y="6.8">40</text>
<text class="xt" transform="translate(2,104) rotate(-45)">1990</text><text class="xt" transform="translate(20.8,104) rotate(-45)">1995</text><text class="xt" transform="translate(39.7,104) rotate(-45)">2000</text><text class="xt" transform="translate(58.5,104) rotate(-45)">2005</text><text class="xt" transform="translate(77.3,104) rotate(-45)">2010</text><text class="xt" transform="translate(96.2,104) rotate(-45)">2015</text><text class="xt" transform="translate(115,104) rotate(-45)">2020</text>
<text class="tt" x="56" y="11">Estonia (2050)</text>
<text class="an" x="32" y="52">-76.5%</text><text class="ra" x="106" y="34">-20%</text><text class="ra" x="106" y="42">-30%</text><text class="st" x="110" y="35">☆</text><text class="st" x="110" y="43">☆</text>
</g>

<!-- Germany -->
<g transform="translate(804,152)">
<rect class="pb" width="113" height="100"/>
<svg width="113" height="100" viewBox="1990 -1310 30 1110" preserveAspectRatio="none"><line class="dl" x1="2009" x2="2009" y1="-1310" y2="-200"/>
<polyline class="g" points="1990,-860 1993,-860 1995,-920 1996,-870 1998,-890 2000,-860 2002,-830 2003,-880 2005,-860 2007,-850 2009,-760 2010,-790 2012,-770 2014,-760 2016,-740 2018,-710 2020,-630"/>
<polyline class="r" points="1990,-810 1992,-760 1995,-730 1997,-740 1999,-700 2002,-690 2005,-680 2007,-680 2009,-620 2011,-640 2013,-640 2015,-620 2017,-620 2019,-560 2020,-480"/></svg>
<path class="ax" d="M0,0V100H113"/>
<text class="yt" x="-3" y="102">200</text><text class="yt" x="-3" y="84">400</text><text class="yt" x="-3" y="66">600</text><text class="yt" x="-3" y="48">800</text><text class="yt" x="-3" y="29.9">1000</text><text class="yt" x="-3" y="11.9">1200</text>
<text class="xt" transform="translate(2,104) rotate(-45)">1990</text><text class="xt" transform="translate(20.8,104) rotate(-45)">1995</text><text class="xt" transform="translate(39.7,104) rotate(-45)">2000</text><text class="xt" transform="translate(58.5,104) rotate(-45)">2005</text><text class="xt" transform="translate(77.3,104) rotate(-45)">2010</text><text class="xt" transform="translate(96.2,104) rotate(-45)">2015</text><text class="xt" transform="translate(115,104) rotate(-45)">2020</text>
<text class="tt" x="56" y="11">Germany (2045)</text>
<text class="an" x="56" y="35">-31.3%</text><text class="st" x="111" y="60">☆</text><text class="st" x="111" y="69">☆</text><text class="ra" x="132" y="60">-20%</text><text class="ra" x="132" y="69">-30%</text>
</g>

<!-- Denmark -->
<g transform="translate(943,152)">
<rect class="pb" width="114" height="100"/>
<svg width="114" height="100" viewBox="1990 -108 30 108" preserveAspectRatio="none"><line class="dl" x1="2009" x2="2009" y1="-108" y2="0"/>
<polyline class="g" points="1990,-58 1991,-65 1993,-63 1995,-65 1996,-68 1998,-62 2000,-63 2002,-65 2004,-66 2005,-64 2006,-77 2008,-70 2010,-62 2012,-58 2014,-52 2016,-48 2017,-42 2018,-44 2020,-35"/>
<polyline class="r" points="1990,-48 1991,-55 1993,-50 1995,-55 1996,-65 1997,-55 1999,-50 2001,-46 2003,-52 2005,-44 2006,-52 2008,-45 2010,-42 2012,-35 2014,-33 2016,-30 2018,-27 2020,-22"/></svg>
<path class="ax" d="M0,0V100H114"/>
<text class="yt" x="-3" y="102">0</text><text class="yt" x="-3" y="74.2">30</text><text class="yt" x="-3" y="46.4">60</text><text class="yt" x="-3" y="18.7">90</text>
<text class="xt" transform="translate(2,104) rotate(-45)">1990</text><text class="xt" transform="translate(20.8,104) rotate(-45)">1995</text><text class="xt" transform="translate(39.7,104) rotate(-45)">2000</text><text class="xt" transform="translate(58.5,104) rotate(-45)">2005</text><text class="xt" transform="translate(77.3,104) rotate(-45)">2010</text><text class="xt" transform="translate(96.2,104) rotate(-45)">2015</text><text class="xt" transform="translate(115,104) rotate(-45)">2020</text>
<text class="tt" x="57" y="11">Denmark (2050)</text>
<text class="an" x="40" y="35">-36.6%</text><text class="ra" x="109" y="64">-20%</text><text class="ra" x="109" y="71">-30%</text><text class="st" x="113" y="65">☆</text><text class="st" x="113" y="72">☆</text>
</g>

<!-- Croatia -->
<g transform="translate(657,305)">
<rect class="pb" width="113" height="100"/>
<svg width="113" height="100" viewBox="1990 -40 30 40" preserveAspectRatio="none"><line class="dl" x1="2009" x2="2009" y1="-40" y2="0"/>
<polyline class="g" points="1990,-20 1991,-14 1993,-13 1994,-13 1995,-17 1996,-15 1997,-19.5 1999,-17.5 2001,-18 2003,-24 2004,-23 2006,-26 2008,-25 2009,-22 2010,-19 2012,-18 2014,-15 2016,-14.5 2018,-18 2020,-17.5"/>
<polyline class="r" points="1990,-18 1991,-13 1993,-13 1996,-13 1998,-15.5 2000,-15 2002,-17 2004,-18 2006,-17.5 2007,-19 2009,-16.5 2011,-15.5 2013,-14 2015,-13.5 2017,-14 2019,-13.5 2020,-12.5"/></svg>
<path class="ax" d="M0,0V100H113"/>
<text class="yt" x="-3" y="102">0</text><text class="yt" x="-3" y="77">10</text><text class="yt" x="-3" y="52">20</text><text class="yt" x="-3" y="27">30</text><text class="yt" x="-3" y="2">40</text>
<text class="xt" transform="translate(2,104) rotate(-45)">1990</text><text class="xt" transform="translate(20.8,104) rotate(-45)">1995</text><text class="xt" transform="translate(39.7,104) rotate(-45)">2000</text><text class="xt" transform="translate(58.5,104) rotate(-45)">2005</text><text class="xt" transform="translate(77.3,104) rotate(-45)">2010</text><text class="xt" transform="translate(96.2,104) rotate(-45)">2015</text><text class="xt" transform="translate(115,104) rotate(-45)">2020</text>
<text class="tt" x="56" y="11">Croatia (2050)</text>
<text class="an" x="30" y="45">-16.7%</text><text class="ra" x="112" y="50">-5%</text><text class="st" x="110" y="58">☆</text>
</g>

<!-- UK -->
<g transform="translate(803,305)">
<rect class="pb" width="114" height="100"/>
<svg width="114" height="100" viewBox="1990 -909 30 909" preserveAspectRatio="none"><line class="dl" x1="2009" x2="2009" y1="-909" y2="0"/>
<polyline class="g" points="1990,-555 1992,-560 1994,-520 1996,-545 1998,-570 2000,-585 2002,-600 2004,-630 2006,-650 2007,-640 2009,-520 2010,-550 2012,-510 2014,-500 2016,-460 2018,-400 2020,-390"/>
<polyline class="r" points="1990,-470 1992,-460 1994,-440 1996,-440 1998,-430 2000,-440 2002,-430 2004,-440 2006,-445 2008,-420 2009,-380 2011,-390 2013,-370 2015,-330 2017,-300 2019,-270 2020,-230"/></svg>
<path class="ax" d="M0,0V100H114"/>
<text class="yt" x="-3" y="102">0</text><text class="yt" x="-3" y="80">200</text><text class="yt" x="-3" y="58">400</text><text class="yt" x="-3" y="36">600</text><text class="yt" x="-3" y="14">800</text>
<text class="xt" transform="translate(2,104) rotate(-45)">1990</text><text class="xt" transform="translate(20.8,104) rotate(-45)">1995</text><text class="xt" transform="translate(39.7,104) rotate(-45)">2000</text><text class="xt" transform="translate(58.5,104) rotate(-45)">2005</text><text class="xt" transform="translate(77.3,104) rotate(-45)">2010</text><text class="xt" transform="translate(96.2,104) rotate(-45)">2015</text><text class="xt" transform="translate(115,104) rotate(-45)">2020</text>
<text class="tt" x="57" y="11">United Kingdom (2050)</text>
<text class="an" x="30" y="27">-35.3%</text><text class="ra" x="109" y="61">-20%</text><text class="ra" x="109" y="69">-30%</text><text class="st" x="113" y="62">☆</text><text class="st" x="113" y="70">☆</text>
</g>

<!-- Sweden -->
<g transform="translate(947,305)">
<rect class="pb" width="114" height="100"/>
<svg width="114" height="100" viewBox="1990 -120 30 120" preserveAspectRatio="none"><line class="dl" x1="2009" x2="2009" y1="-120" y2="0"/>
<polyline class="g" points="1990,-65 1992,-65 1993,-60 1995,-66 1996,-70 1998,-72 1999,-78 2001,-72 2003,-75 2005,-74 2007,-78 2008,-76 2009,-62 2010,-74 2012,-70 2014,-68 2016,-67 2018,-58 2020,-50"/>
<polyline class="r" points="1990,-46 1992,-49 1994,-51 1996,-56 1997,-50 1999,-52 2001,-48 2003,-50 2005,-46 2007,-43 2009,-38 2010,-43 2012,-37 2014,-34 2016,-33 2018,-32 2020,-28"/></svg>
<path class="ax" d="M0,0V100H114"/>
<text class="yt" x="-3" y="102">0</text><text class="yt" x="-3" y="77">30</text><text class="yt" x="-3" y="52">60</text><text class="yt" x="-3" y="27">90</text><text class="yt" x="-3" y="2">120</text>
<text class="xt" transform="translate(2,104) rotate(-45)">1990</text><text class="xt" transform="translate(20.8,104) rotate(-45)">1995</text><text class="xt" transform="translate(39.7,104) rotate(-45)">2000</text><text class="xt" transform="translate(58.5,104) rotate(-45)">2005</text><text class="xt" transform="translate(77.3,104) rotate(-45)">2010</text><text class="xt" transform="translate(96.2,104) rotate(-45)">2015</text><text class="xt" transform="translate(115,104) rotate(-45)">2020</text>
<text class="tt" x="57" y="11">Sweden (2045)</text>
<text class="an" x="42" y="27">-22.7%</text><text class="ra" x="109" y="73">-20%</text><text class="ra" x="106" y="88">-30%</text><text class="st" x="113" y="74">☆</text><text class="st" x="113" y="80">☆</text>
</g>

<!-- Romania -->
<g transform="translate(657,436)">
<rect class="pb" width="113" height="100"/>
<svg width="113" height="100" viewBox="1990 -185 30 185" preserveAspectRatio="none"><line class="dl" x1="2009" x2="2009" y1="-185" y2="0"/>
<polyline class="g" points="1990,-120 1991,-98 1993,-88 1995,-85 1997,-87 1999,-75 2000,-62 2002,-65 2004,-66 2006,-78 2007,-95 2008,-98 2009,-85 2010,-72 2011,-78 2013,-62 2015,-62 2017,-63 2019,-62 2020,-58"/>
<polyline class="r" points="1990,-160 1991,-140 1993,-112 1995,-108 1997,-115 1999,-78 2001,-85 2003,-88 2005,-85 2007,-85 2009,-82 2010,-70 2011,-75 2013,-62 2015,-62 2017,-64 2019,-60 2020,-55"/></svg>
<path class="ax" d="M0,0V100H113"/>
<text class="yt" x="-3" y="102">0</text><text class="yt" x="-3" y="91.2">20</text><text class="yt" x="-3" y="80.4">40</text><text class="yt" x="-3" y="69.6">60</text><text class="yt" x="-3" y="58.8">80</text><text class="yt" x="-3" y="47.9">100</text><text class="yt" x="-3" y="37.1">120</text><text class="yt" x="-3" y="26.3">140</text><text class="yt" x="-3" y="15.5">160</text><text class="yt" x="-3" y="4.7">180</text>
<text class="xt" transform="translate(2,104) rotate(-45)">1990</text><text class="xt" transform="translate(20.8,104) rotate(-45)">1995</text><text class="xt" transform="translate(39.7,104) rotate(-45)">2000</text><text class="xt" transform="translate(58.5,104) rotate(-45)">2005</text><text class="xt" transform="translate(77.3,104) rotate(-45)">2010</text><text class="xt" transform="translate(96.2,104) rotate(-45)">2015</text><text class="xt" transform="translate(115,104) rotate(-45)">2020</text>
<text class="tt" x="56" y="11">Romania (2050)</text>
<text class="an" x="56" y="78">-51.4%</text><text class="ra" x="108" y="34">-20%</text><text class="ra" x="108" y="42">-30%</text><text class="st" x="112" y="35">☆</text><text class="st" x="112" y="43">☆</text>
</g>

<!-- Italy -->
<g transform="translate(803,436)">
<rect class="pb" width="114" height="100"/>
<svg width="114" height="100" viewBox="1990 -700 30 700" preserveAspectRatio="none"><line class="dl" x1="2009" x2="2009" y1="-700" y2="0"/>
<polyline class="g" points="1990,-415 1992,-425 1993,-400 1995,-410 1997,-440 1999,-460 2001,-470 2003,-490 2005,-530 2006,-540 2008,-500 2009,-440 2011,-430 2013,-380 2015,-350 2017,-340 2019,-300 2020,-270"/>
<polyline class="r" points="1990,-330 1993,-330 1995,-350 1998,-360 2001,-370 2004,-390 2007,-390 2009,-340 2011,-330 2013,-300 2015,-275 2017,-270 2019,-260 2020,-245"/></svg>
<path class="ax" d="M0,0V100H114"/>
<text class="yt" x="-3" y="87.7">100</text><text class="yt" x="-3" y="73.4">200</text><text class="yt" x="-3" y="59.1">300</text><text class="yt" x="-3" y="44.9">400</text><text class="yt" x="-3" y="30.6">500</text><text class="yt" x="-3" y="16.3">600</text><text class="yt" x="-3" y="2">700</text>
<text class="xt" transform="translate(2,104) rotate(-45)">1990</text><text class="xt" transform="translate(20.8,104) rotate(-45)">1995</text><text class="xt" transform="translate(39.7,104) rotate(-45)">2000</text><text class="xt" transform="translate(58.5,104) rotate(-45)">2005</text><text class="xt" transform="translate(77.3,104) rotate(-45)">2010</text><text class="xt" transform="translate(96.2,104) rotate(-45)">2015</text><text class="xt" transform="translate(115,104) rotate(-45)">2020</text>
<text class="tt" x="57" y="11">Italy (2050)</text>
<text class="an" x="42" y="29">-30.4%</text><text class="ra" x="108" y="64">-20%</text><text class="st" x="113" y="66">☆</text><text class="st" x="113" y="73">☆</text><text class="ra" x="118" y="82">-30%</text>
</g>

<!-- Finland -->
<g transform="translate(947,436)">
<rect class="pb" width="114" height="100"/>
<svg width="114" height="100" viewBox="1990 -120 30 120" preserveAspectRatio="none"><line class="dl" x1="2009" x2="2009" y1="-120" y2="0"/>
<polyline class="g" points="1990,-58 1992,-50 1994,-57 1996,-62 1998,-60 2000,-63 2002,-67 2003,-78 2004,-68 2006,-76 2008,-68 2010,-62 2011,-67 2013,-60 2015,-55 2017,-50 2019,-42 2020,-40"/>
<polyline class="r" points="1990,-48 1992,-45 1994,-53 1996,-50 1997,-56 1999,-52 2001,-56 2003,-69 2005,-52 2006,-65 2008,-55 2009,-52 2010,-60 2012,-48 2014,-45 2016,-40 2018,-40 2020,-36"/></svg>
<path class="ax" d="M0,0V100H114"/>
<text class="yt" x="-3" y="102">0</text><text class="yt" x="-3" y="77">30</text><text class="yt" x="-3" y="52">60</text><text class="yt" x="-3" y="27">90</text><text class="yt" x="-3" y="2">120</text>
<text class="xt" transform="translate(2,104) rotate(-45)">1990</text><text class="xt" transform="translate(20.8,104) rotate(-45)">1995</text><text class="xt" transform="translate(39.7,104) rotate(-45)">2000</text><text class="xt" transform="translate(58.5,104) rotate(-45)">2005</text><text class="xt" transform="translate(77.3,104) rotate(-45)">2010</text><text class="xt" transform="translate(96.2,104) rotate(-45)">2015</text><text class="xt" transform="translate(115,104) rotate(-45)">2020</text>
<text class="tt" x="57" y="11">Finland (2035)</text>
<text class="an" x="40" y="38">-30.6%</text><text class="st" x="112" y="70">☆</text><text class="st" x="112" y="75">☆</text><text class="ra" x="134" y="70">-20%</text><text class="ra" x="116" y="82">-30%</text>
</g>

<!-- Czech -->
<g transform="translate(359,611)">
<rect class="ob" width="115" height="99"/>
<svg width="115" height="99" viewBox="1990 -180 30 130" preserveAspectRatio="none"><line class="dl" x1="2009" x2="2009" y1="-180" y2="-50"/>
<polyline class="g" points="1990,-88 1991,-80 1993,-91 1995,-92 1996,-100 1998,-93 2000,-88 2001,-95 2003,-102 2004,-103 2006,-95 2007,-108 2008,-103 2010,-98 2012,-90 2014,-82 2016,-84 2018,-78 2020,-73"/>
<polyline class="r" points="1990,-138 1991,-125 1993,-118 1995,-110 1997,-113 1999,-100 2000,-113 2002,-110 2004,-112 2006,-113 2008,-105 2010,-100 2012,-95 2014,-90 2016,-92 2018,-90 2020,-77"/></svg>
<path class="ax" d="M0,0V99H115"/>
<text class="yt" x="-3" y="93.3">60</text><text class="yt" x="-3" y="78">80</text><text class="yt" x="-3" y="62.8">100</text><text class="yt" x="-3" y="47.7">120</text><text class="yt" x="-3" y="32.5">140</text><text class="yt" x="-3" y="17.2">160</text><text class="yt" x="-3" y="2">180</text>
<text class="xt" transform="translate(2,103) rotate(-45)">1990</text><text class="xt" transform="translate(21.2,103) rotate(-45)">1995</text><text class="xt" transform="translate(40.3,103) rotate(-45)">2000</text><text class="xt" transform="translate(59.5,103) rotate(-45)">2005</text><text class="xt" transform="translate(78.7,103) rotate(-45)">2010</text><text class="xt" transform="translate(97.8,103) rotate(-45)">2015</text><text class="xt" transform="translate(117,103) rotate(-45)">2020</text>
<text class="tt" x="57" y="11">Czech Republic (2050)</text>
<text class="an" x="32" y="82">-18.2%</text><text class="ra" x="110" y="55">-20%</text><text class="ra" x="110" y="64">-30%</text><text class="st" x="114" y="56">☆</text><text class="st" x="114" y="65">☆</text>
</g>

<!-- Luxembourg -->
<g transform="translate(510,611)">
<rect class="ob" width="115" height="99"/>
<svg width="115" height="99" viewBox="1990 -20 30 20" preserveAspectRatio="none"><line class="dl" x1="2009" x2="2009" y1="-20" y2="0"/>
<polyline class="g" points="1990,-9.5 1992,-9.8 1993,-7 1995,-5.5 1996,-6.5 1998,-8.5 2000,-10.5 2002,-11 2004,-12 2005,-11 2006,-12.5 2008,-11 2010,-12.5 2012,-14 2013,-15.5 2015,-13.5 2017,-13.5 2018,-12.5 2020,-12"/>
<polyline class="r" points="1990,-9.5 1992,-9.5 1993,-6.5 1995,-5.5 1997,-7 1999,-9 2001,-10.5 2003,-9.5 2005,-9 2007,-9.2 2009,-8.5 2011,-8 2013,-7.5 2015,-7.3 2017,-7.8 2019,-7 2020,-6.5"/></svg>
<path class="ax" d="M0,0V99H115"/>
<text class="yt" x="-3" y="101">0</text><text class="yt" x="-3" y="76.3">5</text><text class="yt" x="-3" y="51.5">10</text><text class="yt" x="-3" y="26.8">15</text><text class="yt" x="-3" y="2">20</text>
<text class="xt" transform="translate(2,103) rotate(-45)">1990</text><text class="xt" transform="translate(21.2,103) rotate(-45)">1995</text><text class="xt" transform="translate(40.3,103) rotate(-45)">2000</text><text class="xt" transform="translate(59.5,103) rotate(-45)">2005</text><text class="xt" transform="translate(78.7,103) rotate(-45)">2010</text><text class="xt" transform="translate(97.8,103) rotate(-45)">2015</text><text class="xt" transform="translate(117,103) rotate(-45)">2020</text>
<text class="tt" x="57" y="11">Luxembourg (2050)</text>
<text class="an" x="40" y="37">43.9%</text><text class="ra" x="113" y="57">-20%</text><text class="ra" x="113" y="74">-30%</text><text class="st" x="113" y="64">☆</text><text class="st" x="113" y="68">☆</text>
</g>

<!-- Malta -->
<g transform="translate(660,611)">
<rect class="ob" width="116" height="99"/>
<svg width="116" height="99" viewBox="1990 -9 30 9" preserveAspectRatio="none"><line class="dl" x1="2009" x2="2009" y1="-9" y2="0"/>
<polyline class="g" points="1990,-3.3 1992,-3.2 1993,-3.8 1995,-2.7 1996,-3 1998,-3.2 2000,-3.3 2002,-3.5 2004,-3.6 2006,-3.5 2008,-4.1 2010,-3.5 2012,-3.5 2013,-3.9 2015,-3.2 2017,-3.2 2020,-2.9"/>
<polyline class="r" points="1990,-2.1 1992,-2 1993,-2.6 1995,-2.3 1997,-2.3 1999,-2.2 2001,-2.4 2003,-2.5 2005,-2.6 2007,-2.6 2009,-2.5 2011,-2.5 2013,-1.4 2015,-1.4 2017,-1.5 2020,-1.7"/></svg>
<path class="ax" d="M0,0V99H116"/>
<text class="yt" x="-3" y="101">0</text><text class="yt" x="-3" y="68">3</text><text class="yt" x="-3" y="35">6</text><text class="yt" x="-3" y="2">9</text>
<text class="xt" transform="translate(2,103) rotate(-45)">1990</text><text class="xt" transform="translate(21.3,103) rotate(-45)">1995</text><text class="xt" transform="translate(40.7,103) rotate(-45)">2000</text><text class="xt" transform="translate(60,103) rotate(-45)">2005</text><text class="xt" transform="translate(79.3,103) rotate(-45)">2010</text><text class="xt" transform="translate(98.7,103) rotate(-45)">2015</text><text class="xt" transform="translate(118,103) rotate(-45)">2020</text>
<text class="tt" x="58" y="11">Malta (2050)</text>
<text class="an" x="40" y="52">-8.5%</text><text class="ra" x="114" y="75">-20%</text><text class="ra" x="114" y="88">-30%</text><text class="st" x="114" y="80">☆</text><text class="st" x="114" y="84">☆</text>
</g>

<!-- Hungary -->
<g transform="translate(808,611)">
<rect class="ob" width="116" height="99"/>
<svg width="116" height="99" viewBox="1990 -104 30 104" preserveAspectRatio="none"><line class="dl" x1="2009" x2="2009" y1="-104" y2="0"/>
<polyline class="g" points="1990,-50 1992,-47 1994,-48 1995,-53 1997,-47 1999,-50 2001,-55 2003,-62 2005,-60 2007,-59 2008,-55 2009,-48 2011,-42 2013,-38 2015,-40 2017,-41 2019,-41 2020,-40"/>
<polyline class="r" points="1990,-52 1992,-46 1994,-47 1996,-46 1998,-47 2000,-46 2002,-45 2004,-45 2006,-45 2007,-44 2009,-38 2011,-38 2013,-34 2015,-36 2017,-38 2019,-40 2020,-37"/></svg>
<path class="ax" d="M0,0V99H116"/>
<text class="yt" x="-3" y="101">0</text><text class="yt" x="-3" y="82">20</text><text class="yt" x="-3" y="62.9">40</text><text class="yt" x="-3" y="43.9">60</text><text class="yt" x="-3" y="24.9">80</text><text class="yt" x="-3" y="5.8">100</text>
<text class="xt" transform="translate(2,103) rotate(-45)">1990</text><text class="xt" transform="translate(21.3,103) rotate(-45)">1995</text><text class="xt" transform="translate(40.7,103) rotate(-45)">2000</text><text class="xt" transform="translate(60,103) rotate(-45)">2005</text><text class="xt" transform="translate(79.3,103) rotate(-45)">2010</text><text class="xt" transform="translate(98.7,103) rotate(-45)">2015</text><text class="xt" transform="translate(118,103) rotate(-45)">2020</text>
<text class="tt" x="58" y="11">Hungary (2050)</text>
<text class="an" x="48" y="37">-10.9%</text><text class="ra" x="114" y="58">-20%</text><text class="ra" x="114" y="76">-30%</text><text class="st" x="114" y="64">☆</text><text class="st" x="114" y="69">☆</text>
</g>

<!-- Poland -->
<g transform="translate(359,735)">
<rect class="ob" width="115" height="99"/>
<svg width="115" height="99" viewBox="1990 -375 30 275" preserveAspectRatio="none"><line class="dl" x1="2009" x2="2009" y1="-375" y2="-100"/>
<polyline class="g" points="1990,-230 1991,-245 1993,-235 1995,-240 1996,-280 1997,-240 1999,-260 2000,-240 2001,-220 2003,-240 2005,-260 2007,-270 2009,-245 2011,-250 2013,-235 2015,-220 2017,-210 2019,-205 2020,-200"/>
<polyline class="r" points="1990,-305 1992,-290 1994,-285 1996,-300 1998,-275 2000,-262 2002,-255 2004,-260 2006,-268 2008,-265 2010,-258 2012,-255 2014,-245 2016,-242 2018,-255 2019,-248 2020,-235"/></svg>
<path class="ax" d="M0,0V99H115"/>
<text class="yt" x="-3" y="101">100</text><text class="yt" x="-3" y="83">150</text><text class="yt" x="-3" y="65">200</text><text class="yt" x="-3" y="47">250</text><text class="yt" x="-3" y="29">300</text><text class="yt" x="-3" y="11">350</text>
<text class="xt" transform="translate(2,103) rotate(-45)">1990</text><text class="xt" transform="translate(21.2,103) rotate(-45)">1995</text><text class="xt" transform="translate(40.3,103) rotate(-45)">2000</text><text class="xt" transform="translate(59.5,103) rotate(-45)">2005</text><text class="xt" transform="translate(78.7,103) rotate(-45)">2010</text><text class="xt" transform="translate(97.8,103) rotate(-45)">2015</text><text class="xt" transform="translate(117,103) rotate(-45)">2020</text>
<text class="tt" x="57" y="11">Poland</text>
<text class="an" x="32" y="61">-12.3%</text><text class="ra" x="114" y="39">-20%</text><text class="ra" x="114" y="66">-30%</text><text class="st" x="112" y="47">☆</text><text class="st" x="112" y="59">☆</text>
</g>

<!-- Belgium -->
<g transform="translate(510,735)">
<rect class="ob" width="115" height="99"/>
<svg width="115" height="99" viewBox="1990 -170 30 140" preserveAspectRatio="none"><line class="dl" x1="2009" x2="2009" y1="-170" y2="-30"/>
<polyline class="g" points="1990,-80 1992,-82 1994,-88 1996,-90 1998,-88 2000,-95 2002,-100 2004,-110 2006,-115 2008,-128 2009,-112 2011,-118 2013,-110 2015,-112 2016,-118 2018,-105 2020,-98"/>
<polyline class="r" points="1990,-87 1992,-85 1994,-88 1996,-90 1998,-92 2000,-90 2002,-88 2004,-85 2006,-82 2008,-80 2010,-78 2011,-75 2013,-70 2015,-70 2017,-72 2019,-70 2020,-62"/></svg>
<path class="ax" d="M0,0V99H115"/>
<text class="yt" x="-3" y="101">30</text><text class="yt" x="-3" y="79.8">60</text><text class="yt" x="-3" y="58.5">90</text><text class="yt" x="-3" y="37.3">120</text><text class="yt" x="-3" y="16.2">150</text>
<text class="xt" transform="translate(2,103) rotate(-45)">1990</text><text class="xt" transform="translate(21.2,103) rotate(-45)">1995</text><text class="xt" transform="translate(40.3,103) rotate(-45)">2000</text><text class="xt" transform="translate(59.5,103) rotate(-45)">2005</text><text class="xt" transform="translate(78.7,103) rotate(-45)">2010</text><text class="xt" transform="translate(97.8,103) rotate(-45)">2015</text><text class="xt" transform="translate(117,103) rotate(-45)">2020</text>
<text class="tt" x="57" y="11">Belgium (2050)</text>
<text class="an" x="45" y="31">23.4%</text><text class="ra" x="113" y="67">-20%</text><text class="ra" x="113" y="85">-30%</text><text class="st" x="113" y="74">☆</text><text class="st" x="113" y="79">☆</text>
</g>

<!-- France -->
<g transform="translate(660,735)">
<rect class="ob" width="116" height="99"/>
<svg width="116" height="99" viewBox="1990 -600 30 600" preserveAspectRatio="none"><line class="dl" x1="2009" x2="2009" y1="-600" y2="0"/>
<polyline class="g" points="1990,-420 1992,-435 1994,-420 1996,-420 1998,-440 2000,-430 2002,-445 2004,-460 2006,-470 2008,-470 2009,-445 2011,-460 2013,-450 2015,-430 2017,-410 2019,-380 2020,-350"/>
<polyline class="r" points="1990,-290 1992,-295 1994,-280 1996,-285 1998,-300 2000,-300 2002,-300 2004,-300 2006,-295 2008,-290 2010,-275 2012,-270 2014,-260 2016,-255 2018,-250 2019,-245 2020,-200"/></svg>
<path class="ax" d="M0,0V99H116"/>
<text class="yt" x="-3" y="101">0</text><text class="yt" x="-3" y="84.5">100</text><text class="yt" x="-3" y="68">200</text><text class="yt" x="-3" y="51.5">300</text><text class="yt" x="-3" y="35">400</text><text class="yt" x="-3" y="18.5">500</text><text class="yt" x="-3" y="2">600</text>
<text class="xt" transform="translate(2,103) rotate(-45)">1990</text><text class="xt" transform="translate(21.3,103) rotate(-45)">1995</text><text class="xt" transform="translate(40.7,103) rotate(-45)">2000</text><text class="xt" transform="translate(60,103) rotate(-45)">2005</text><text class="xt" transform="translate(79.3,103) rotate(-45)">2010</text><text class="xt" transform="translate(98.7,103) rotate(-45)">2015</text><text class="xt" transform="translate(118,103) rotate(-45)">2020</text>
<text class="tt" x="58" y="11">France (2050)</text>
<text class="an" x="30" y="21">-14.3%</text><text class="ra" x="114" y="56">-20%</text><text class="ra" x="106" y="69">-30%</text><text class="st" x="114" y="62">☆</text><text class="st" x="114" y="67">☆</text>
</g>

<!-- Scatter -->
<g>
<rect x="356" y="287" width="272" height="272" fill="#efefef"/>
<line x1="446.7" x2="446.7" y1="287" y2="559" stroke="#999" stroke-dasharray="5 4" stroke-width="1"/>
<line x1="469.4" x2="469.4" y1="287" y2="559" stroke="#999" stroke-dasharray="5 4" stroke-width="1"/>
<line x1="356" x2="628" y1="391.5" y2="391.5" stroke="#aaa" stroke-dasharray="5 4" stroke-width="1"/>
<line x1="356" x2="628" y1="370.6" y2="370.6" stroke="#aaa" stroke-dasharray="5 4" stroke-width="1"/>
<g stroke="#fff" stroke-width="1.2">
<circle cx="507.9" cy="315.2" r="6" fill="#8155b0"/><circle cx="521.5" cy="315.2" r="6" fill="#8155b0"/><circle cx="523.8" cy="321.5" r="6" fill="#8155b0"/><circle cx="537.4" cy="312.1" r="6" fill="#8155b0"/><circle cx="589.5" cy="322.5" r="6" fill="#8155b0"/><circle cx="507.9" cy="331.9" r="6" fill="#8155b0"/><circle cx="521.5" cy="338.2" r="6" fill="#8155b0"/><circle cx="485.2" cy="352.8" r="6" fill="#8a62b8"/><circle cx="503.3" cy="354.9" r="6" fill="#6c3a9e"/><circle cx="483" cy="358.1" r="6" fill="#9a78c4"/><circle cx="492" cy="360.2" r="6" fill="#8a62b8"/><circle cx="480.7" cy="361.2" r="6" fill="#5b2d8e"/><circle cx="494.3" cy="368.5" r="6" fill="#6c3a9e"/>
<circle cx="473.9" cy="379" r="6" fill="#f5a52b"/><circle cx="483" cy="381.1" r="6" fill="#f7b347"/><circle cx="480.7" cy="383.1" r="6" fill="#f5a52b"/><circle cx="496.6" cy="372.7" r="6" fill="#f2a33a"/><circle cx="476.1" cy="416.6" r="6" fill="#f5a52b"/><circle cx="485.2" cy="437.5" r="6" fill="#f5a52b"/>
<circle cx="396.8" cy="394.6" r="6" fill="#7db95a"/><circle cx="424" cy="390.5" r="6" fill="#7db95a"/><circle cx="441" cy="395.7" r="6" fill="#7db95a"/><circle cx="454.6" cy="368.5" r="6" fill="#8cc46a"/><circle cx="454.6" cy="379" r="6" fill="#8cc46a"/><circle cx="454.6" cy="372.7" r="6" fill="#5fa038"/><circle cx="461.4" cy="400.9" r="6" fill="#7db95a"/><circle cx="465.9" cy="406.1" r="6" fill="#7db95a"/><circle cx="395.7" cy="506.5" r="6" fill="#7db95a"/><circle cx="437.6" cy="532.6" r="6" fill="#7db95a"/>
</g>
<path d="M356,287V559H628" fill="none" stroke="#555" stroke-width="1.2"/>
<text class="sl" x="491" y="305">Lithuania</text><text class="sl" x="564" y="307">Estonia</text><text class="sl" x="476" y="337">Bulgaria</text><text class="sl" x="596" y="343">Croatia</text><text class="sl" x="547" y="358">Romania</text><text class="sl" x="384" y="415">Cyprus</text><text class="sl" x="519" y="457">Luxembourg</text><text class="sl" x="397" y="497">Australia</text><text class="sl" x="436" y="552">Ireland</text>
<g class="sk" text-anchor="end"><text x="351" y="311">4</text><text x="351" y="353">2</text><text x="351" y="395">0</text><text x="351" y="437">-2</text><text x="351" y="479">-4</text><text x="351" y="521">-6</text><text x="351" y="562">-8</text></g>
<g class="sk" text-anchor="middle"><text x="356" y="571">-4</text><text x="401.3" y="571">-2</text><text x="446.7" y="571">0</text><text x="492" y="571">2</text><text x="537.3" y="571">4</text><text x="582.7" y="571">6</text><text x="628" y="571">8</text></g>
<text x="492" y="584" text-anchor="middle" style="font-size:12.5px;fill:#333">Change of territorial emissions/ Target</text>
<text transform="translate(334,423) rotate(-90)" text-anchor="middle" style="font-size:12.5px;fill:#333">Change of consumption-based emissions/ Target</text>
</g>

<!-- Legend -->
<line x1="873" x2="898" y1="799" y2="799" stroke="#d9332b" stroke-width="2"/>
<line x1="873" x2="898" y1="813" y2="813" stroke="#8e8e8e" stroke-width="2"/>
<text x="901" y="803" style="font-size:11px;fill:#333">Territorial emissions</text>
<text x="901" y="817" style="font-size:11px;fill:#333">Consumption-based emissions</text>
</svg>
</body></html>
